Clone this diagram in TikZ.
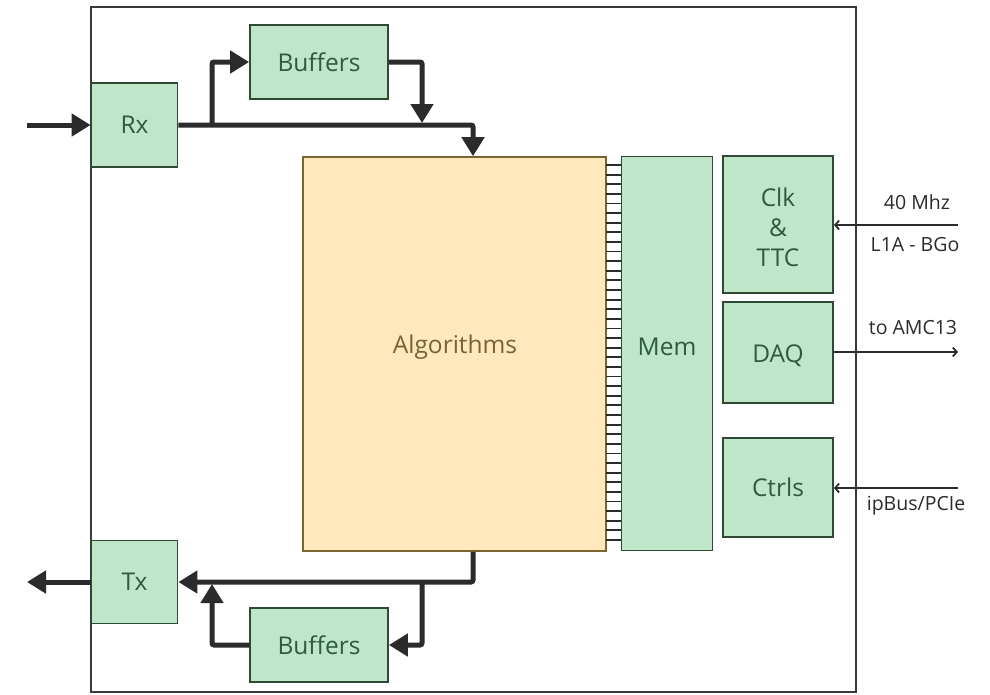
\documentclass[tikz,border=0pt]{standalone}
\usepackage{fontspec}
\setmainfont{Open Sans}
\usetikzlibrary{arrows.meta}
\definecolor{gfill}{HTML}{C0E6C9}
\definecolor{gborder}{HTML}{2E4A35}
\definecolor{gtext}{HTML}{2F5A3C}
\definecolor{afill}{HTML}{FFE8BC}
\definecolor{aborder}{HTML}{7A6430}
\definecolor{atext}{HTML}{756434}
\definecolor{linec}{HTML}{2B2B2B}
\definecolor{framec}{HTML}{3A3A3A}
\begin{document}
\begin{tikzpicture}[x=1pt,y=-1pt,
  gbox/.style={draw=gborder, fill=gfill, line width=1.8pt, text=gtext,
    font=\fontsize{24.5}{30}\selectfont, inner sep=0pt, align=center},
  abox/.style={draw=aborder, fill=afill, line width=1.6pt, inner sep=0pt},
  boxtext/.style={font=\fontsize{24.5}{25}\selectfont, inner sep=0pt},
  thickarr/.style={line width=5pt, draw=linec, rounded corners=2pt,
    -{Triangle[width=22pt,length=19pt]}},
  thinarr/.style={line width=1.8pt, draw=linec,
    -{Straight Barb[length=4pt,width=9pt]}},
  sidelabel/.style={text=linec, font=\fontsize{19.5}{22}\selectfont, inner sep=0pt},
  rung/.style={line width=1.8pt, draw=linec}
]
\useasboundingbox (0,0) rectangle (990,694);
\draw[framec, line width=2pt] (91,7) rectangle (856,692);

\node[gbox, minimum width=86pt, minimum height=84pt] (Rx) at (134.5,125) {Rx};
\node[gbox, minimum width=138pt, minimum height=74pt] (Buf1) at (319,62) {Buffers};
\node[abox, minimum width=303pt, minimum height=394pt] (Alg) at (454.5,354) {};
\node[boxtext, text=atext] (AlgT) at (455,347) {Algorithms};
\node[gbox, minimum width=91pt, minimum height=394pt] (Mem) at (667,353.5) {};
\node[boxtext, text=gtext] (MemT) at (667,347) {Mem};
\node[gbox, minimum width=110pt, minimum height=137pt] (Clk) at (778,224.5) {};
\node[text=gtext, font=\fontsize{24.5}{30}\selectfont, inner sep=0pt, align=center] (ClkT) at (778,227) {Clk\\\&\\TTC};
\node[gbox, minimum width=110pt, minimum height=101pt] (DAQ) at (778,352.5) {};
\node[boxtext, text=gtext] (DAQT) at (778,356) {DAQ};
\node[gbox, minimum width=110pt, minimum height=99pt] (Ctrls) at (778,487.5) {Ctrls};
\node[gbox, minimum width=86pt, minimum height=83pt] (Tx) at (134.5,582) {Tx};
\node[gbox, minimum width=138pt, minimum height=74pt] (Buf2) at (319,645) {Buffers};

% comb between Algorithms and Mem
\foreach \i in {0,...,39} {
  \draw[rung] (606,165+\i*9.615) -- (621,165+\i*9.615);
}

% top path
\coordinate (in) at (27,125);
\coordinate (j1) at (473,125);
\coordinate (j2) at (422,125);
\coordinate (b1) at (212,125);
\draw[thickarr] (in) -- (Rx.west);
\draw[thickarr] (Rx.east) -- (j1) -- (j1 |- Alg.north);
\draw[thickarr] (b1) |- (Buf1.west);
\draw[thickarr, shorten >=2pt] (Buf1.east) -| (j2);

% bottom path
\coordinate (j3) at (473,582);
\coordinate (j4) at (422,582);
\coordinate (j5) at (212,582);
\coordinate (out) at (27,582);
\draw[thickarr] (Alg.south -| j3) -- (j3) -- (Tx.east);
\draw[thickarr] (j4) |- (Buf2.east);
\draw[thickarr, shorten >=2pt] (Buf2.west) -| (j5);
\draw[thickarr] (Tx.west) -- (out);

% right side signals
\coordinate (c40) at (958,225);
\coordinate (amc) at (958,352);
\coordinate (ipb) at (958,488);
\draw[thinarr] (c40) -- (c40 -| Clk.east);
\draw[thinarr] (DAQ.east |- amc) -- (amc);
\draw[thinarr] (ipb) -- (ipb -| Ctrls.east);
\node[sidelabel] (l40) at (917,202) {40 Mhz};
\node[sidelabel] (l1a) at (915,245) {L1A - BGo};
\node[sidelabel] (lamc) at (913,328) {to AMC13};
\node[sidelabel] (lipb) at (916,506) {ipBus/PCIe};
\end{tikzpicture}
\end{document}
